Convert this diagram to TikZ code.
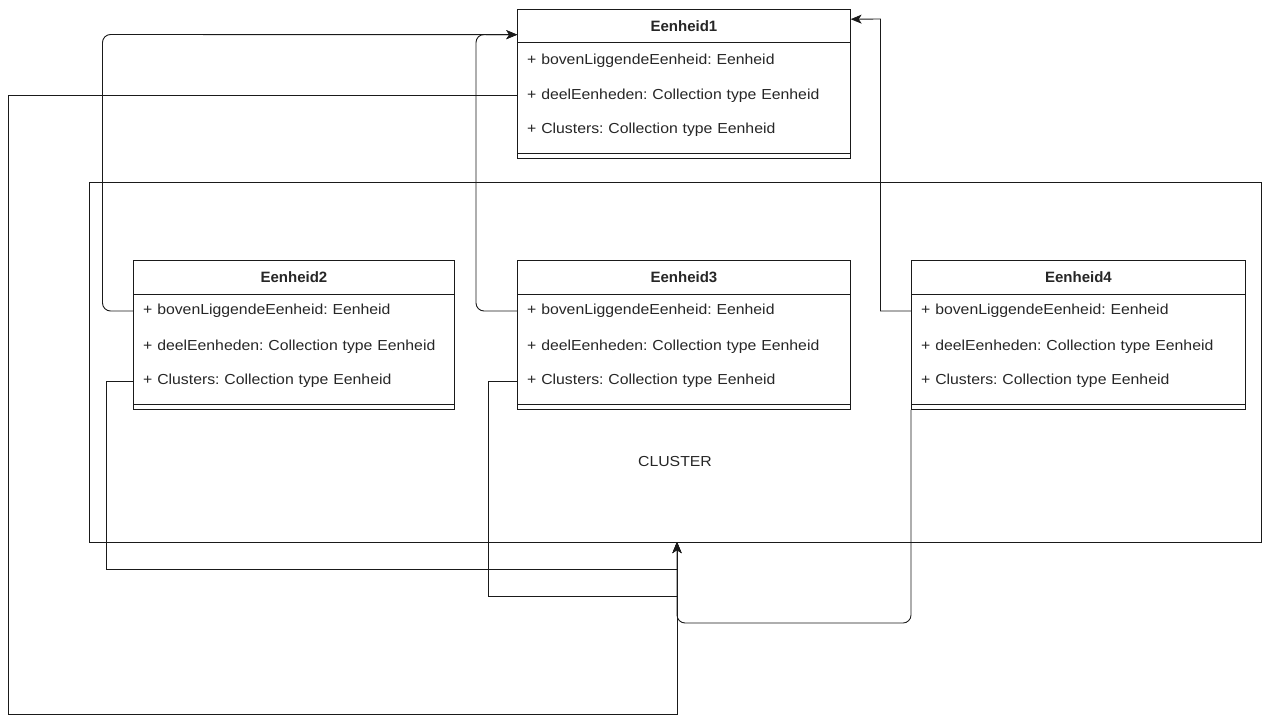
\documentclass[tikz,border=0pt]{standalone}
\usepackage{fontspec}
\setmainfont{Liberation Sans}
\newfontfamily\rowfont[FakeStretch=1.09]{Liberation Sans}
\usetikzlibrary{arrows.meta,calc}
\definecolor{ink}{HTML}{1A1A1A}
\definecolor{txt}{HTML}{262626}
\frenchspacing
\tikzset{
  box/.style={draw=ink, line width=0.9pt, rectangle, inner sep=0pt, anchor=north west, minimum height=149pt},
  titletext/.style={inner xsep=9pt, inner ysep=0pt, anchor=north, minimum height=34pt, align=center, text=txt, font=\bfseries\fontsize{15}{17}\selectfont},
  rowtext/.style={inner xsep=10pt, inner ysep=0pt, anchor=west, align=left, text=txt, font=\rowfont\fontsize{14.5}{17}\selectfont\frenchspacing},
  conn/.style={draw=ink, line width=0.9pt},
  arr/.style={conn, -{Stealth[length=11pt,width=9pt,inset=3pt]}},
}
\begin{document}
\begin{tikzpicture}[x=1pt,y=-1pt]
\useasboundingbox (0,0) rectangle (1263,715);
% cluster
\node[draw=ink, line width=0.9pt, rectangle, inner sep=0pt, minimum width=1172pt, minimum height=360pt] (cluster) at (675,362) {};
\node[text=txt, font=\rowfont\fontsize{14.5}{17}\selectfont, inner sep=0pt] (clusterlbl) at (675,462) {CLUSTER};
\coordinate (cin) at (677,542);

% Eenheid1
\node[box, minimum width=333pt, fill=white] (e1) at (517,8.5) {};
\node[titletext, text width=315pt] (e1t) at (e1.north) {Eenheid1};
\draw[conn] ($(e1.north west)+(0,-34pt)$) -- ($(e1.north east)+(0,-34pt)$);
\draw[conn] ($(e1.south west)+(0,5pt)$) -- ($(e1.south east)+(0,5pt)$);
\node[rowtext, text width=313pt] (e1r1) at (517,61) {+ bovenLiggendeEenheid: Eenheid};
\node[rowtext, text width=313pt] (e1r2) at (517,95.5) {+ deelEenheden: Collection type Eenheid};
\node[rowtext, text width=313pt] (e1r3) at (517,129.5) {+ Clusters: Collection type Eenheid};

% Eenheid2
\node[box, minimum width=321pt] (e2) at (133,260) {};
\node[titletext, text width=303pt] (e2t) at (e2.north) {Eenheid2};
\draw[conn] ($(e2.north west)+(0,-34pt)$) -- ($(e2.north east)+(0,-34pt)$);
\draw[conn] ($(e2.south west)+(0,5pt)$) -- ($(e2.south east)+(0,5pt)$);
\node[rowtext, text width=301pt] (e2r1) at (133,311) {+ bovenLiggendeEenheid: Eenheid};
\node[rowtext, text width=301pt] (e2r2) at (133,346.5) {+ deelEenheden: Collection type Eenheid};
\node[rowtext, text width=301pt] (e2r3) at (133,381) {+ Clusters: Collection type Eenheid};

% Eenheid3
\node[box, minimum width=333pt] (e3) at (517,260) {};
\node[titletext, text width=315pt] (e3t) at (e3.north) {Eenheid3};
\draw[conn] ($(e3.north west)+(0,-34pt)$) -- ($(e3.north east)+(0,-34pt)$);
\draw[conn] ($(e3.south west)+(0,5pt)$) -- ($(e3.south east)+(0,5pt)$);
\node[rowtext, text width=313pt] (e3r1) at (517,311) {+ bovenLiggendeEenheid: Eenheid};
\node[rowtext, text width=313pt] (e3r2) at (517,346.5) {+ deelEenheden: Collection type Eenheid};
\node[rowtext, text width=313pt] (e3r3) at (517,381) {+ Clusters: Collection type Eenheid};

% Eenheid4
\node[box, minimum width=334pt] (e4) at (911,260) {};
\node[titletext, text width=316pt] (e4t) at (e4.north) {Eenheid4};
\draw[conn] ($(e4.north west)+(0,-34pt)$) -- ($(e4.north east)+(0,-34pt)$);
\draw[conn] ($(e4.south west)+(0,5pt)$) -- ($(e4.south east)+(0,5pt)$);
\node[rowtext, text width=314pt] (e4r1) at (911,311) {+ bovenLiggendeEenheid: Eenheid};
\node[rowtext, text width=314pt] (e4r2) at (911,346.5) {+ deelEenheden: Collection type Eenheid};
\node[rowtext, text width=314pt] (e4r3) at (911,381) {+ Clusters: Collection type Eenheid};

% connectors to Eenheid1
\draw[arr, rounded corners=8pt] (e2r1.west) -| (102.5,34.5) -- ([yshift=-9pt]e1t.west);
\draw[arr, rounded corners=8pt] (e3r1.west) -| (476,34.5) -- ([yshift=-9pt]e1t.west);
\draw[arr] (e4r1.west) -| (880.5,19) -- ([yshift=6.5pt]e1t.east);

% connectors to cluster
\draw[arr] (e1r2.west) -| (8,714) -| (cin);
\draw[arr] (e2r3.west) -| (106,569) -| (cin);
\draw[arr] (e3r3.west) -| (488,596) -| (cin);
\draw[arr, rounded corners=8pt] (e4.south west) -- (911,623) -| (cin);
\end{tikzpicture}
\end{document}
